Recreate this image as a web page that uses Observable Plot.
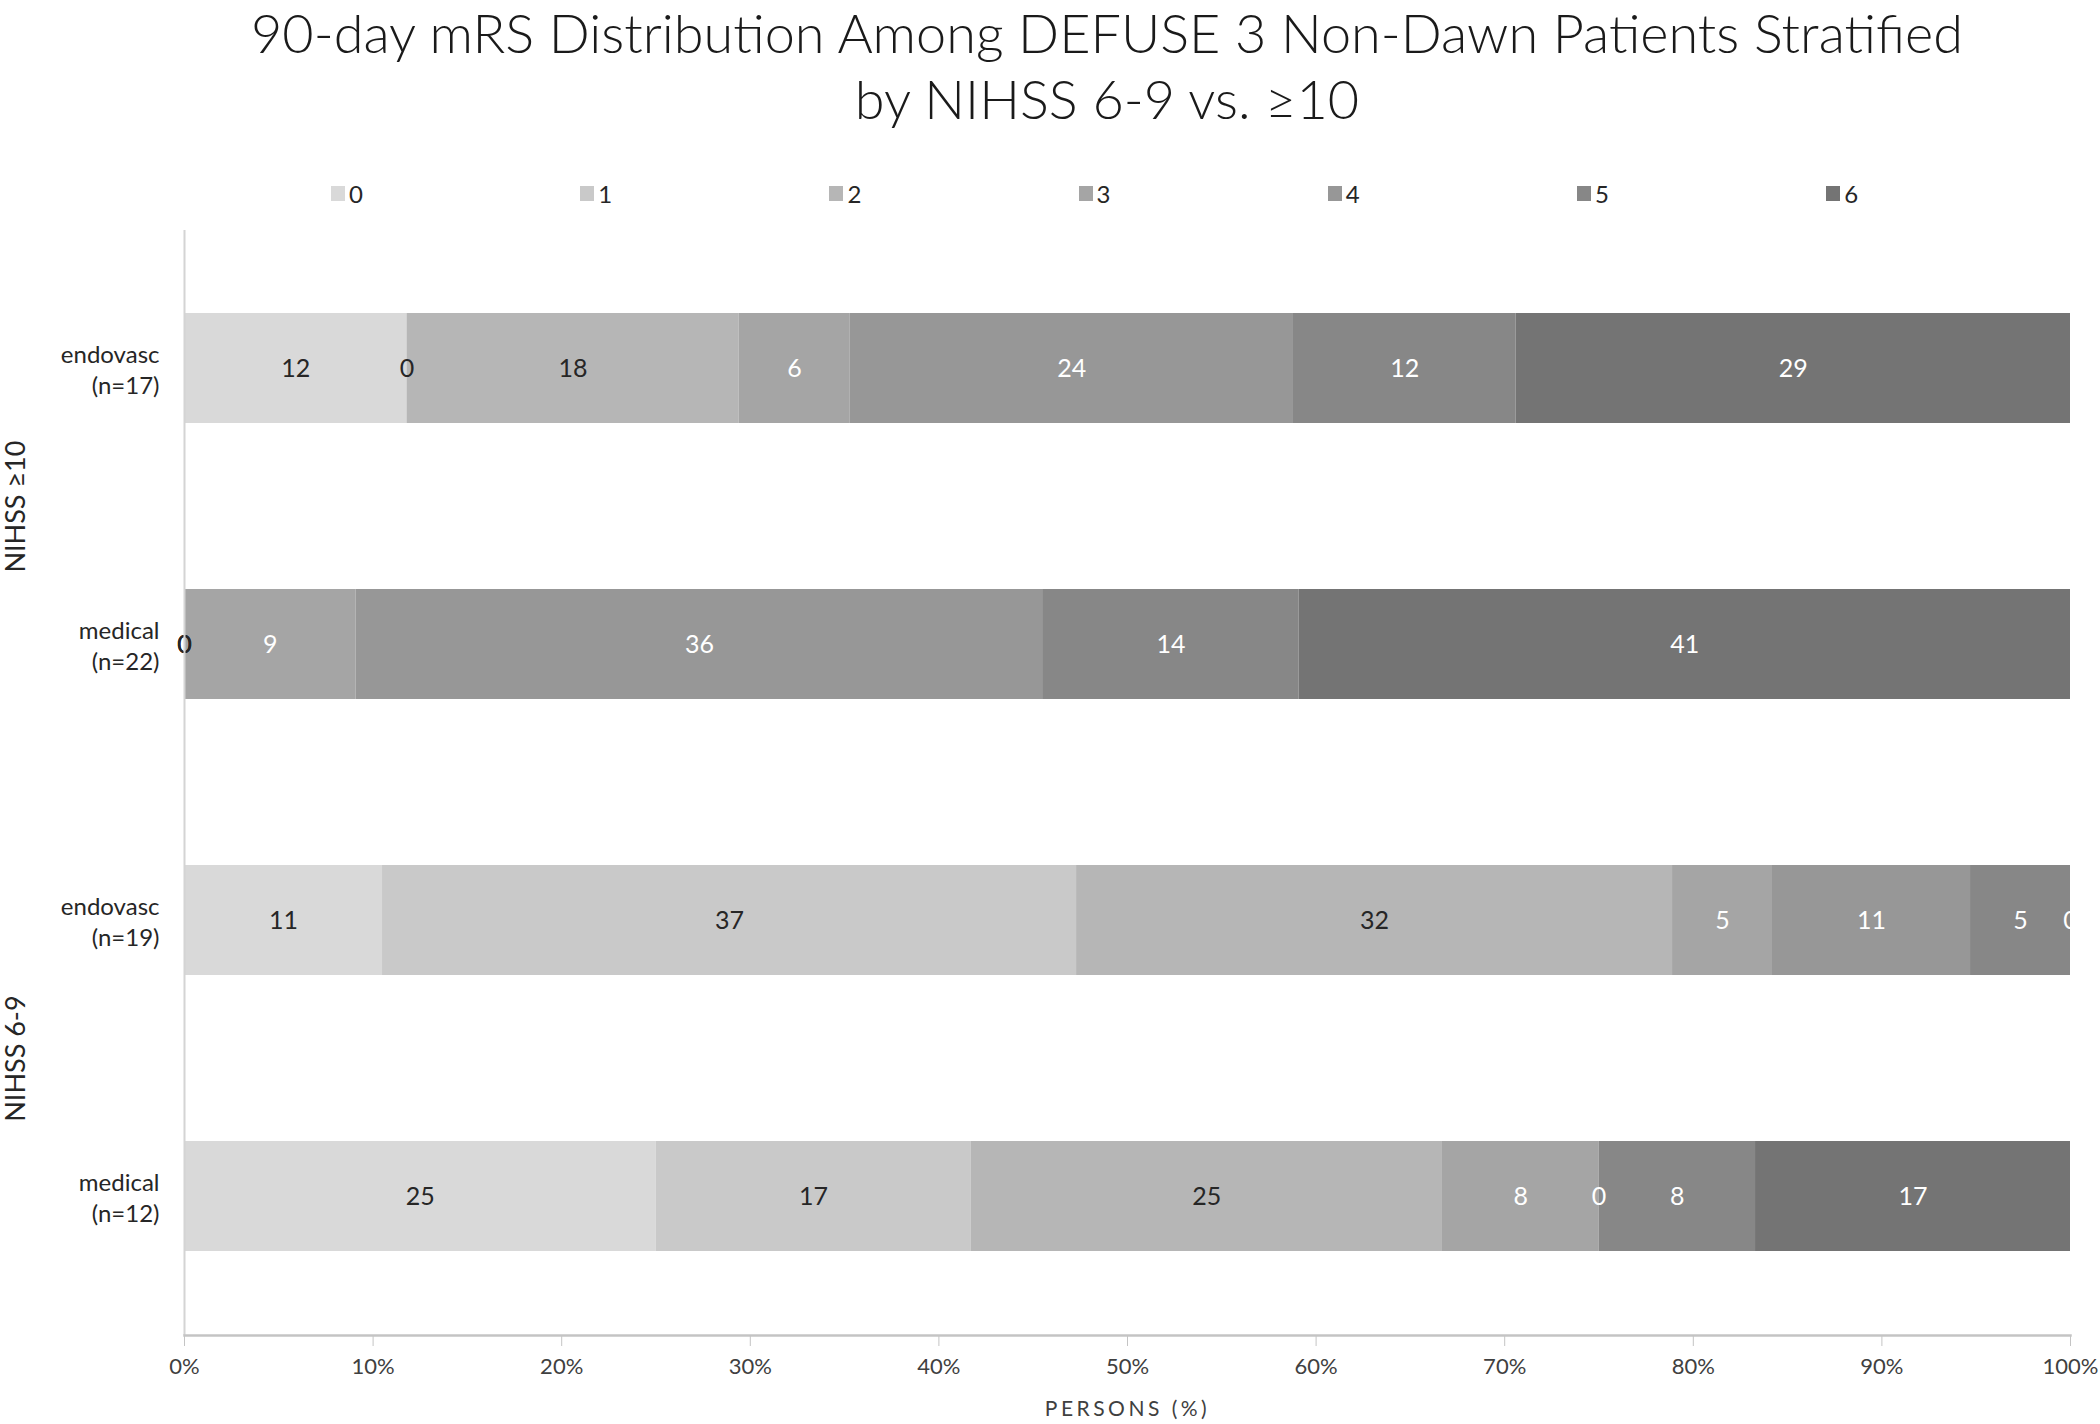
<!DOCTYPE html>
<html>
<head>
<meta charset="utf-8">
<script src="https://cdn.jsdelivr.net/npm/d3@7"></script>
<script src="https://cdn.jsdelivr.net/npm/@observablehq/plot@0.6"></script>
<style>
  html, body { margin: 0; padding: 0; background: #fff; }
  body { width: 2100px; height: 1424px; position: relative; overflow: hidden; font-family: Lato, "Open Sans", sans-serif; }
  #title { position: absolute; left: 0; width: 2214px; top: 0; text-align: center; font-weight: 300; font-size: 54px; line-height: 66px; color: #1a1a1a; white-space: nowrap; }
  #title div { display: block; }
  #legend { position: absolute; top: 178px; left: 0; width: 2100px; height: 30px; }
  .item { position: absolute; top: 0; height: 30px; display: flex; align-items: center; font-size: 24px; color: #262626; }
  .sw { width: 14px; height: 15px; margin-right: 4px; }
  #chart { position: absolute; left: 0; top: 210px; }
</style>
</head>
<body>
<div id="title"><div>90-day mRS Distribution Among DEFUSE 3 Non-Dawn Patients Stratified</div><div>by NIHSS 6-9 vs. ≥10</div></div>
<div id="legend"></div>
<div id="chart"></div>
<script>
// ---- data ----
const mrsCategories = ["0", "1", "2", "3", "4", "5", "6"];
const mrsColors = ["#d9d9d9", "#c9c9c9", "#b6b6b6", "#a5a5a5", "#979797", "#878787", "#747474"];
const rowKeys = ["r0", "r1", "r2", "r3"];
const rowTreatments = ["endovasc", "medical", "endovasc", "medical"];
const rowN = [17, 22, 19, 12];
const rowGroups = ["NIHSS ≥10", "NIHSS ≥10", "NIHSS 6-9", "NIHSS 6-9"];
const groupNames = ["NIHSS ≥10", "NIHSS 6-9"];
const groupFirstRow = ["r0", "r2"];
// percent of persons per mRS 0..6, each row
const valuesEndovascHigh = [11.8, 0, 17.6, 5.9, 23.5, 11.8, 29.4];
const valuesMedicalHigh = [0, 0, 0, 9.1, 36.4, 13.6, 40.9];
const valuesEndovascLow = [10.5, 36.8, 31.6, 5.3, 10.5, 5.3, 0];
const valuesMedicalLow = [25, 16.7, 25, 8.3, 0, 8.3, 16.7];
const xTicks = [0, 10, 20, 30, 40, 50, 60, 70, 80, 90, 100];

const rowValues = [valuesEndovascHigh, valuesMedicalHigh, valuesEndovascLow, valuesMedicalLow];
const data = [];
rowKeys.forEach((r, i) => {
  mrsCategories.forEach((m, j) => {
    data.push({row: r, mrs: m, value: rowValues[i][j]});
  });
});
const rows = rowKeys.map((r, i) => ({row: r, label: `${rowTreatments[i]}\n(n=${rowN[i]})`}));
const groups = groupNames.map((g, i) => ({name: g, row: groupFirstRow[i]}));

// ---- legend ----
const legend = document.getElementById("legend");
mrsCategories.forEach((m, i) => {
  const it = document.createElement("div");
  it.className = "item";
  it.style.left = (331 + i * 249.2) + "px";
  it.innerHTML = `<span class="sw" style="background:${mrsColors[i]}"></span><span>${m}</span>`;
  legend.appendChild(it);
});

// ---- chart ----
const W = 2100, H = 1214, mT = 20, mB = 89, mL = 184, mR = 30;
const step = (H - mT - mB) / rowKeys.length;
const lab = d => String(Math.round(d.value));

const chart = Plot.plot({
  width: W, height: H,
  marginTop: mT, marginBottom: mB, marginLeft: mL, marginRight: mR,
  style: {fontFamily: "Lato, 'Open Sans', sans-serif", fontSize: "22px", color: "#404040", background: "white", overflow: "visible"},
  x: {domain: [0, 100]},
  y: {domain: rowKeys, paddingInner: 0.6, paddingOuter: 0.3, axis: null},
  color: {domain: mrsCategories, range: mrsColors},
  marks: [
    Plot.barX(data, Plot.stackX({y: "row", x: "value", fill: "mrs"})),
    Plot.text(data, Plot.stackX({y: "row", x: "value", z: "mrs",
      text: d => (+d.mrs < 3 ? lab(d) : null), fill: "#262626", fontSize: 25})),
    Plot.text(data, Plot.stackX({y: "row", x: "value", z: "mrs",
      text: d => (+d.mrs >= 3 ? lab(d) : null), fill: "white", fontSize: 25, clip: true})),
    Plot.ruleX([0], {stroke: "#d4d4d4", strokeWidth: 2}),
    Plot.frame({anchor: "bottom", stroke: "#c4c4c4", strokeWidth: 2.5}),
    Plot.axisX({ticks: xTicks, tickFormat: d => d + "%", tickSize: 11, tickPadding: 12,
      stroke: "#c4c4c4", fill: "#404040", fontSize: 22,
      label: "PERSONS (%)", labelAnchor: "center", labelArrow: "none", labelOffset: 80}),
    Plot.text(rows, {y: "row", text: "label", frameAnchor: "left", dx: -25, textAnchor: "end",
      fontSize: 24, lineHeight: 1.32, fill: "#262626"}),
    Plot.text(groups, {y: "row", text: "name", frameAnchor: "left", textAnchor: "middle",
      dx: -168, dy: step / 2, rotate: -90, fontSize: 27, fill: "#262626"})
  ]
});
document.getElementById("chart").appendChild(chart);
d3.select(chart).selectAll('[aria-label="x-axis label"] text')
  .attr("letter-spacing", "3.5px").attr("font-size", "21px").attr("fill", "#404040");
</script>
</body>
</html>
